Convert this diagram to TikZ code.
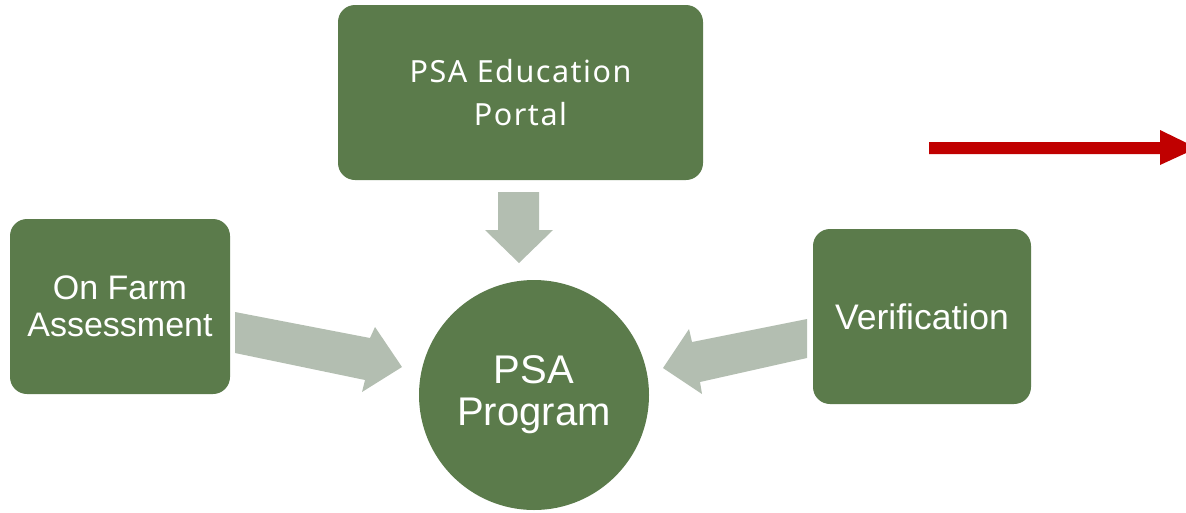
\documentclass[tikz,border=0pt]{standalone}
\usepackage{fontspec}
\setmainfont{Liberation Sans}
\newfontfamily\portalfont[LetterSpace=5]{Noto Sans}
\definecolor{boxgreen}{HTML}{5B7B4B}
\definecolor{arrowgrey}{HTML}{B3BEB1}
\definecolor{redarrow}{HTML}{C00000}
\tikzset{
  greenbox/.style={fill=boxgreen, draw=none, rounded corners=17pt, text=white, align=center, inner sep=0pt},
  greencircle/.style={circle, fill=boxgreen, draw=none, text=white, align=center, inner sep=0pt},
  blockarrow/.style={fill=arrowgrey, draw=none},
}
\begin{document}
\begin{tikzpicture}[x=1pt,y=-1pt]
\useasboundingbox (0,0) rectangle (1186,512);
\clip (0,0) rectangle (1186,512);

\node[greenbox, minimum width=365, minimum height=175,
      font=\portalfont\fontsize{30.5}{43}\selectfont] (edu) at (520.5,92.5) {PSA Education\\Portal};
\node[greenbox, minimum width=220, minimum height=175,
      font=\fontsize{34}{37}\selectfont] (farm) at (120,306.5) {On Farm\\Assessment};
\node[greenbox, minimum width=218, minimum height=175,
      font=\fontsize{35.5}{38}\selectfont] (verif) at (922,316.5) {Verification};
\node[greencircle, minimum size=230,
      font=\fontsize{40}{42}\selectfont] (psa) at (534,395) {PSA\\Program};

% block arrows
\fill[blockarrow] (498,192) -- (539,192) -- (539,230) -- (553,230) -- (519,263) -- (485,230) -- (498,230) -- cycle;
\fill[blockarrow] (235,312) -- (370,338) -- (375,327) -- (402,367) -- (362,392) -- (365,380) -- (235,353) -- cycle;
\fill[blockarrow] (807,319) -- (692,342) -- (689,329) -- (663,368) -- (702,394) -- (700,382) -- (807,358) -- cycle;

% red arrow
\fill[redarrow] (929,142) -- (1160,142) -- (1160,130) -- (1197,148) -- (1160,165) -- (1160,154) -- (929,154) -- cycle;
\end{tikzpicture}
\end{document}
